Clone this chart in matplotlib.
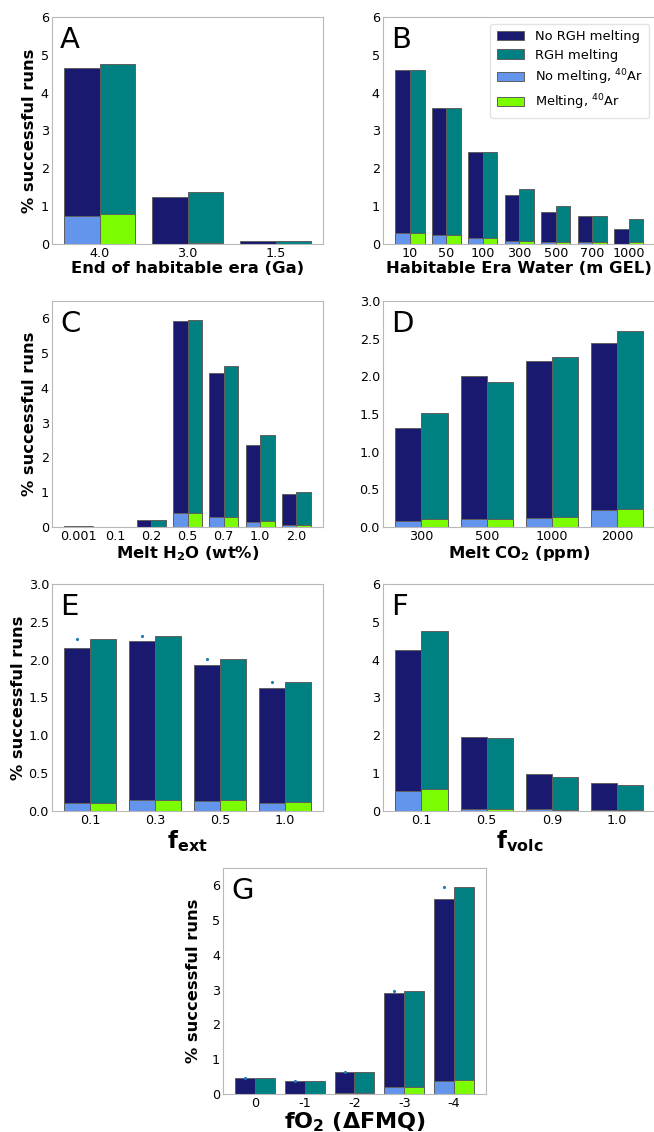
import numpy as np
import matplotlib
matplotlib.use("Agg")
import matplotlib.pyplot as plt

NAVY = "#191970"
TEAL = "#008080"
LIGHT = "#6495ED"
GREEN = "#7CFC00"
DOT = "#1f77b4"
SPINE = "#b8b8b8"

# ---- data -----------------------------------------------------------------
a_cats = ["4.0", "3.0", "1.5"]
a_norgh = [4.65, 1.23, 0.08]
a_rgh = [4.77, 1.37, 0.08]
a_noar = [0.75, 0.0, 0.0]
a_ar = [0.78, 0.02, 0.0]

b_cats = ["10", "50", "100", "300", "500", "700", "1000"]
b_norgh = [4.60, 3.60, 2.42, 1.29, 0.84, 0.75, 0.40]
b_rgh = [4.60, 3.60, 2.42, 1.45, 1.00, 0.73, 0.66]
b_noar = [0.29, 0.23, 0.15, 0.08, 0.04, 0.04, 0.01]
b_ar = [0.29, 0.23, 0.15, 0.08, 0.05, 0.04, 0.05]

c_cats = ["0.001", "0.1", "0.2", "0.5", "0.7", "1.0", "2.0"]
c_norgh = [0.03, 0.01, 0.19, 5.93, 4.43, 2.37, 0.94]
c_rgh = [0.02, 0.01, 0.20, 5.96, 4.62, 2.66, 1.01]
c_noar = [0.0, 0.0, 0.0, 0.40, 0.30, 0.15, 0.05]
c_ar = [0.0, 0.0, 0.0, 0.40, 0.30, 0.17, 0.06]

d_cats = ["300", "500", "1000", "2000"]
d_norgh = [1.31, 2.01, 2.20, 2.45]
d_rgh = [1.52, 1.93, 2.26, 2.60]
d_noar = [0.08, 0.10, 0.12, 0.23]
d_ar = [0.10, 0.10, 0.13, 0.24]

e_cats = ["0.1", "0.3", "0.5", "1.0"]
e_norgh = [2.16, 2.25, 1.93, 1.62]
e_rgh = [2.27, 2.31, 2.01, 1.71]
e_noar = [0.11, 0.15, 0.13, 0.11]
e_ar = [0.11, 0.15, 0.14, 0.12]

f_cats = ["0.1", "0.5", "0.9", "1.0"]
f_norgh = [4.25, 1.96, 0.99, 0.74]
f_rgh = [4.76, 1.94, 0.89, 0.68]
f_noar = [0.52, 0.06, 0.04, 0.03]
f_ar = [0.58, 0.06, 0.03, 0.03]

g_cats = ["0", "-1", "-2", "-3", "-4"]
g_norgh = [0.46, 0.36, 0.62, 2.90, 5.61]
g_rgh = [0.46, 0.38, 0.63, 2.97, 5.96]
g_noar = [0.01, 0.01, 0.03, 0.19, 0.38]
g_ar = [0.01, 0.01, 0.03, 0.20, 0.40]

W = 0.4


def panel(ax, cats, norgh, rgh, noar, ar, letter, xlabel, ylim, yticks,
          ylabel=True, dots=False, xlsize=11.8, legend=False, ylpad=2.5,
          xlpad=1):
    x = np.arange(len(cats))
    kw = dict(width=W, edgecolor="#606060", linewidth=0.7)
    ax.bar(x - W / 2, norgh, color=NAVY, label="No RGH melting", **kw)
    ax.bar(x + W / 2, rgh, color=TEAL, label="RGH melting", **kw)
    ax.bar(x - W / 2, noar, color=LIGHT, label="No melting, $^{40}$Ar", **kw)
    ax.bar(x + W / 2, ar, color=GREEN, label="Melting, $^{40}$Ar", **kw)
    if dots:
        ax.plot(x - W / 2, rgh, ".", color=DOT, ms=2.5)
    ax.set_xticks(x)
    ax.set_xticklabels(cats)
    ax.set_ylim(*ylim)
    ax.set_yticks(yticks)
    ax.tick_params(length=0, labelsize=9.2, pad=2.2)
    for s in ax.spines.values():
        s.set_color(SPINE)
    ax.text(0.03, 0.96, letter, transform=ax.transAxes, fontsize=21,
            va="top", ha="left")
    ax.set_xlabel(xlabel, fontsize=xlsize, fontweight="bold", labelpad=xlpad)
    if ylabel:
        ax.set_ylabel("% successful runs", fontsize=11.7, fontweight="bold",
                      labelpad=ylpad)
    if legend:
        ax.legend(loc="upper right", fontsize=9.4, edgecolor="#dddddd",
                  handlelength=2.1, handleheight=0.7, borderpad=0.5,
                  labelspacing=0.42, borderaxespad=0.5)


fig = plt.figure(figsize=(6.54, 11.32), dpi=100)

axA = fig.add_axes([0.0795, 0.7845, 0.4145, 0.2005])
axB = fig.add_axes([0.5856, 0.7845, 0.4170, 0.2005])
axC = fig.add_axes([0.0795, 0.5345, 0.4145, 0.1995])
axD = fig.add_axes([0.5856, 0.5345, 0.4170, 0.1995])
axE = fig.add_axes([0.0795, 0.2836, 0.4145, 0.2005])
axF = fig.add_axes([0.5856, 0.2836, 0.4170, 0.2005])
axG = fig.add_axes([0.3410, 0.0336, 0.4020, 0.1996])

panel(axA, a_cats, a_norgh, a_rgh, a_noar, a_ar, "A",
      "End of habitable era (Ga)", (0, 6), range(0, 7))
panel(axB, b_cats, b_norgh, b_rgh, b_noar, b_ar, "B",
      "Habitable Era Water (m GEL)", (0, 6), range(0, 7), ylabel=False,
      legend=True)
panel(axC, c_cats, c_norgh, c_rgh, c_noar, c_ar, "C",
      "Melt H$_\\mathbf{2}$O (wt%)", (0, 6.5), range(0, 7))
panel(axD, d_cats, d_norgh, d_rgh, d_noar, d_ar, "D",
      "Melt CO$_\\mathbf{2}$ (ppm)", (0, 3), np.arange(0, 3.01, 0.5),
      ylabel=False)
axD.set_yticklabels(["0.0", "0.5", "1.0", "1.5", "2.0", "2.5", "3.0"])
panel(axE, e_cats, e_norgh, e_rgh, e_noar, e_ar, "E",
      "f$_\\mathbf{ext}$", (0, 3), np.arange(0, 3.01, 0.5), dots=True,
      xlsize=16.5, ylpad=1.5)
axE.set_yticklabels(["0.0", "0.5", "1.0", "1.5", "2.0", "2.5", "3.0"])
panel(axF, f_cats, f_norgh, f_rgh, f_noar, f_ar, "F",
      "f$_\\mathbf{volc}$", (0, 6), range(0, 7), ylabel=False, xlsize=16.5)
panel(axG, g_cats, g_norgh, g_rgh, g_noar, g_ar, "G",
      "fO$_\\mathbf{2}$ (ΔFMQ)", (0, 6.5), range(0, 7), dots=True,
      xlsize=16, ylpad=8, xlpad=0)

fig.savefig("out.png", dpi=100)
